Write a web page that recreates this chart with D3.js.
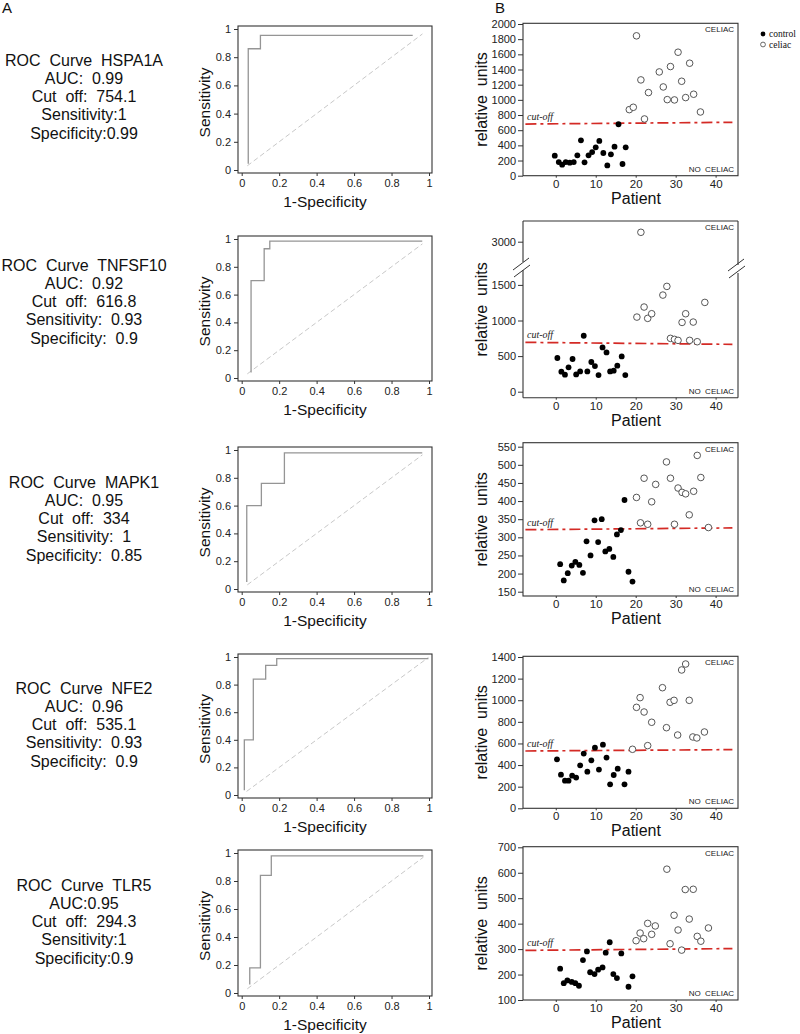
<!DOCTYPE html>
<html><head><meta charset="utf-8">
<script src="https://cdn.jsdelivr.net/npm/d3@7"></script>
<style>body{margin:0;background:#fff} svg{display:block}</style>
</head><body><svg id="c" width="800" height="1034"></svg>
<script>
// ---------------- DATA ----------------
const genes = ["HSPA1A","TNFSF10","MAPK1","NFE2","TLR5"];
const aucLabels = ["AUC:  0.99","AUC:  0.92","AUC:  0.95","AUC:  0.96","AUC:0.95"];
const cutoffLabels = ["Cut  off:  754.1","Cut  off:  616.8","Cut  off:  334","Cut  off:  535.1","Cut  off:  294.3"];
const sensLabels = ["Sensitivity:1","Sensitivity:  0.93","Sensitivity:  1","Sensitivity:  0.93","Sensitivity:1"];
const specLabels = ["Specificity:0.99","Specificity:  0.9","Specificity:  0.85","Specificity:  0.9","Specificity:0.9"];

const rocTicks = [0,0.2,0.4,0.6,0.8,1];
// ROC curves: [1-specificity, sensitivity]
const rocHSPA1A  = [[0.035,0.045],[0.035,0.86],[0.1,0.86],[0.1,0.955],[0.913,0.955]];
const rocTNFSF10 = [[0.05,0.04],[0.05,0.70],[0.12,0.70],[0.12,0.93],[0.15,0.93],[0.15,0.985],[0.964,0.985]];
const rocMAPK1   = [[0.027,0.05],[0.027,0.60],[0.105,0.60],[0.105,0.76],[0.228,0.76],[0.228,0.98],[0.964,0.98]];
const rocNFE2    = [[0.014,0.034],[0.014,0.40],[0.062,0.40],[0.062,0.84],[0.128,0.84],[0.128,0.94],[0.187,0.94],[0.187,0.988],[0.997,0.988]];
const rocTLR5    = [[0.043,0.06],[0.043,0.18],[0.10,0.18],[0.10,0.84],[0.158,0.84],[0.158,0.98],[0.97,0.98]];
const rocDiagStart = [0.03,0.03,0.03,0.026,0.03];
const rocDiagEnd   = [0.965,0.965,0.965,0.997,0.97];

const patientTicks = [0,10,20,30,40];

// Scatter: [patient, relative units]
const controlHSPA1A = [[-0.25,264],[0.75,180],[1.6,145],[2.5,180],[3.5,172],[4.5,180],[5.4,268],[6.3,466],[7.2,176],[8.2,268],[9.1,312],[10,374],[10.9,458],[11.9,299],[12.9,136],[13.8,282],[14.7,383],[15.7,678],[16.7,154],[17.5,374]];
const celiacHSPA1A = [[20.2,1844],[18.4,871],[19.4,902],[21.3,1263],[22.2,748],[23.2,1096],[25.9,1368],[26.9,1170],[27.9,1003],[28.7,1439],[29.7,999],[30.6,1628],[31.5,1245],[32.5,1030],[33.5,1483],[34.5,1074],[36.2,840]];
const cutHSPA1A = [681,704];
const ticksHSPA1A = [0,200,400,600,800,1000,1200,1400,1600,1800,2000];

const controlTNFSF10 = [[0.4,473],[1.4,281],[2.3,239],[3.2,342],[4.2,459],[5.1,243],[6.1,285],[7,786],[7.9,285],[8.9,417],[9.8,360],[10.7,234],[11.7,622],[12.7,552],[13.6,285],[14.5,295],[15.4,365],[16.5,496],[17.4,234]];
const celiacTNFSF10 = [[20.3,1048],[21.3,3132],[22.1,1189],[23,1030],[24,1095],[26.8,1357],[27.8,1479],[28.7,749],[29.7,735],[30.6,721],[31.6,973],[32.5,1095],[33.5,721],[34.4,978],[35.4,702],[37.3,1254]];
const cutTNFSF10 = [693,665];
const ticksTNFSF10Low = [0,500,1000,1500];
const ticksTNFSF10High = [3000];

const controlMAPK1 = [[1.1,226],[2,181],[3,201],[4,222],[4.9,232],[5.9,224],[6.8,202],[7.7,289],[8.7,250],[9.7,347],[10.6,287],[11.5,350],[12.4,261],[13.4,268],[14.4,246],[15.3,308],[16.3,320],[17.2,403],[18.2,205],[19.2,178]];
const celiacMAPK1 = [[20.2,410],[21.2,340],[22.1,463],[23,336],[24,398],[25,446],[27.7,508],[28.7,463],[29.7,336],[30.6,436],[31.6,424],[32.5,420],[33.4,362],[34.5,427],[35.4,526],[36.3,465],[38.2,327]];
const cutMAPK1 = [321,326];
const ticksMAPK1 = [150,200,250,300,350,400,450,500,550];

const controlNFE2 = [[0.3,453],[1.3,311],[2.3,256],[3.2,256],[4.1,302],[5.1,284],[6.1,398],[7,506],[7.9,339],[8.9,444],[9.8,561],[10.8,358],[11.8,589],[12.7,469],[13.6,222],[14.5,308],[15.5,367],[17.2,222],[18.2,339]];
const celiacNFE2 = [[19.2,546],[20.2,934],[21.1,1024],[22.1,891],[23,580],[24,796],[26.7,1116],[27.7,746],[28.6,981],[29.6,999],[30.5,678],[31.5,1280],[32.5,1335],[33.4,999],[34.3,660],[35.3,651],[37.2,706]];
const cutNFE2 = [530,543];
const ticksNFE2 = [0,200,400,600,800,1000,1200,1400];

const controlTLR5 = [[1.1,223],[2,166],[2.9,177],[4,171],[4.9,166],[5.8,156],[6.8,257],[7.8,291],[8.6,209],[9.7,202],[10.6,219],[11.7,228],[12.5,286],[13.5,327],[14.4,202],[15.3,186],[16.4,283],[18.2,152],[19.2,193]];
const celiacTLR5 = [[20.1,333],[21.1,363],[22,341],[23,401],[24,358],[24.9,391],[27.8,614],[28.6,321],[29.6,433],[30.6,375],[31.5,296],[32.4,534],[33.4,418],[34.4,535],[35.4,350],[36.3,331],[38.2,383]];
const cutTLR5 = [295,302];
const ticksTLR5 = [100,200,300,400,500,600,700];

const legendLabels = ["control","celiac"];

// ---------------- DRAW ----------------
const FONT = "Arial, 'Liberation Sans', Helvetica, sans-serif";
const SERIF = "'Times New Roman', 'Liberation Serif', 'DejaVu Serif', serif";
const svg = d3.select("#c").style("font-family", FONT);
const fmtInt = d3.format("d");

svg.append("text").attr("x",2).attr("y",13).attr("font-size",15).attr("fill","#111").text("A");
svg.append("text").attr("x",495).attr("y",13).attr("font-size",15).attr("fill","#111").text("B");

// Left descriptive text
const textTop = [60, 265, 482, 688, 885];
genes.forEach((g,i)=>{
  const lines = ["ROC  Curve  "+g, aucLabels[i], cutoffLabels[i], sensLabels[i], specLabels[i]];
  const t = svg.append("text").attr("text-anchor","middle").attr("font-size",16)
    .attr("fill","#111").style("white-space","pre");
  lines.forEach((l,j)=> t.append("tspan").attr("x",84).attr("y", textTop[i]+j*18.3+5.5).text(l));
});

// ROC panels
const rocCurves = [rocHSPA1A, rocTNFSF10, rocMAPK1, rocNFE2, rocTLR5];
const rocY1 = [29,239,450,657,853], rocY0 = [170,378,589,795,993];
function styleAxis(a, size){
  a.select(".domain").remove();
  a.attr("font-family", FONT).attr("font-size", size);
  a.selectAll("line").attr("stroke","#333");
  a.selectAll("text").attr("fill","#222");
}
rocCurves.forEach((pts,i)=>{
  const x = d3.scaleLinear().domain([0,1]).range([241.7,429]);
  const y = d3.scaleLinear().domain([0,1]).range([rocY0[i], rocY1[i]]);
  const top = rocY1[i]-3, bot = rocY0[i]+3, left = 238, right = 432;
  const g = svg.append("g");
  g.append("line").attr("x1",x(rocDiagStart[i])).attr("y1",y(rocDiagStart[i]))
    .attr("x2",x(rocDiagEnd[i])).attr("y2",y(rocDiagEnd[i]))
    .attr("stroke","#c8c8c8").attr("stroke-width",1).attr("stroke-dasharray","5,3");
  g.append("path").datum(pts).attr("d", d3.line().x(d=>x(d[0])).y(d=>y(d[1])))
    .attr("fill","none").attr("stroke","#959595").attr("stroke-width",1.3);
  g.append("rect").attr("x",left).attr("y",top).attr("width",right-left).attr("height",bot-top)
    .attr("fill","none").attr("stroke","#333").attr("stroke-width",1.1);
  g.append("g").attr("transform",`translate(${left},0)`)
    .call(d3.axisLeft(y).tickValues(rocTicks).tickSize(4).tickPadding(3).tickFormat(d3.format("~g")))
    .call(a=>styleAxis(a,11));
  g.append("g").attr("transform",`translate(0,${bot})`)
    .call(d3.axisBottom(x).tickValues(rocTicks).tickSize(3).tickPadding(3).tickFormat(d3.format("~g")))
    .call(a=>styleAxis(a,11));
  g.append("text").attr("transform",`translate(205,${(top+bot)/2+3}) rotate(-90)`)
    .attr("text-anchor","middle").attr("dy","0.35em").attr("font-size",15.5).attr("fill","#111").text("Sensitivity");
  g.append("text").attr("x",325).attr("y",rocY0[i]+36.5).attr("text-anchor","middle")
    .attr("font-size",15.5).attr("fill","#111").text("1-Specificity");
});

// Scatter panels
const xS = d3.scaleLinear().domain([-8.2,45.6]).range([523,738]);
const SL = 523, SR = 738;
const scatters = [
  {ctrl: controlHSPA1A, cel: celiacHSPA1A, cut: cutHSPA1A, ticks: ticksHSPA1A, dom:[0,2000], rng:[175.7,24], top:23.3, bot:175.7},
  {ctrl: controlTNFSF10, cel: celiacTNFSF10, cut: cutTNFSF10, broken:true, top:221, bot:397.7},
  {ctrl: controlMAPK1, cel: celiacMAPK1, cut: cutMAPK1, ticks: ticksMAPK1, dom:[150,550], rng:[591.7,446.7], top:442.7, bot:596},
  {ctrl: controlNFE2, cel: celiacNFE2, cut: cutNFE2, ticks: ticksNFE2, dom:[0,1400], rng:[808.3,657], top:656.3, bot:808.3},
  {ctrl: controlTLR5, cel: celiacTLR5, cut: cutTLR5, ticks: ticksTLR5, dom:[100,700], rng:[1000,847.3], top:846.7, bot:1000}
];
scatters.forEach((s,i)=>{
  const g = svg.append("g");
  let yf;
  if (s.broken){
    const yLow = d3.scaleLinear().domain([0,1500]).range([391.7,284.9]);
    const yHigh = d3.scaleLinear().domain([2700,3300]).range([263.06,220.34]);
    yf = v => v > 2000 ? yHigh(v) : yLow(v);
    const bx = g.append("g").attr("stroke","#333").attr("stroke-width",1.1).attr("fill","none");
    bx.append("line").attr("x1",SL).attr("y1",s.top).attr("x2",SR).attr("y2",s.top);
    bx.append("line").attr("x1",SL).attr("y1",s.bot).attr("x2",SR).attr("y2",s.bot);
    bx.append("line").attr("x1",SL).attr("y1",s.top).attr("x2",SL).attr("y2",262);
    bx.append("line").attr("x1",SL).attr("y1",270).attr("x2",SL).attr("y2",s.bot);
    bx.append("line").attr("x1",SR).attr("y1",s.top).attr("x2",SR).attr("y2",265);
    bx.append("line").attr("x1",SR).attr("y1",273).attr("x2",SR).attr("y2",s.bot);
    const bm = g.append("g").attr("stroke","#333").attr("stroke-width",1);
    [[513,270,529,258],[514,277,530,265],[728,271,744,259],[729,278,745,266]].forEach(l=>
      bm.append("line").attr("x1",l[0]).attr("y1",l[1]).attr("x2",l[2]).attr("y2",l[3]));
    g.append("g").attr("transform",`translate(${SL},0)`)
      .call(d3.axisLeft(yLow).tickValues(ticksTNFSF10Low).tickSize(5).tickPadding(2).tickFormat(fmtInt))
      .call(a=>styleAxis(a,11));
    g.append("g").attr("transform",`translate(${SL},0)`)
      .call(d3.axisLeft(yHigh).tickValues(ticksTNFSF10High).tickSize(5).tickPadding(2).tickFormat(fmtInt))
      .call(a=>styleAxis(a,11));
  } else {
    const y = d3.scaleLinear().domain(s.dom).range(s.rng);
    yf = y;
    g.append("rect").attr("x",SL).attr("y",s.top).attr("width",SR-SL).attr("height",s.bot-s.top)
      .attr("fill","none").attr("stroke","#333").attr("stroke-width",1.1);
    g.append("g").attr("transform",`translate(${SL},0)`)
      .call(d3.axisLeft(y).tickValues(s.ticks).tickSize(5).tickPadding(2).tickFormat(fmtInt))
      .call(a=>styleAxis(a,11));
  }
  g.append("g").attr("transform",`translate(0,${s.bot})`)
    .call(d3.axisBottom(xS).tickValues(patientTicks).tickSize(2).tickPadding(2).tickFormat(fmtInt))
    .call(a=>styleAxis(a,11.5));
  // cut-off line
  g.append("line").attr("x1",xS(-7.6)).attr("y1",yf(s.cut[0])).attr("x2",xS(44.2)).attr("y2",yf(s.cut[1]))
    .attr("stroke","#d42a25").attr("stroke-width",1.7).attr("stroke-dasharray","11,4,3,4");
  g.append("text").attr("x",SL+4).attr("y",yf(s.cut[0])-4).attr("font-family",SERIF).attr("font-style","italic")
    .attr("font-size",10).attr("fill","#222").text("cut-off");
  // dots
  g.selectAll("circle.cel").data(s.cel).join("circle").attr("class","cel")
    .attr("cx",d=>xS(d[0])).attr("cy",d=>yf(d[1])).attr("r",3.3)
    .attr("fill","#fff").attr("stroke","#444").attr("stroke-width",0.9);
  g.selectAll("circle.ctl").data(s.ctrl).join("circle").attr("class","ctl")
    .attr("cx",d=>xS(d[0])).attr("cy",d=>yf(d[1])).attr("r",2.9).attr("fill","#000");
  // corner labels
  g.append("text").attr("x",SR-4).attr("y",s.top+9).attr("text-anchor","end").attr("font-size",8).attr("fill","#222").text("CELIAC");
  g.append("text").attr("x",SR-4).attr("y",s.bot-4).attr("text-anchor","end").attr("font-size",8).attr("fill","#222")
    .style("white-space","pre").text("NO  CELIAC");
  // axis titles
  g.append("text").attr("transform",`translate(481,${(s.top+s.bot)/2}) rotate(-90)`).attr("text-anchor","middle")
    .attr("dy","0.35em").attr("font-size",16).attr("fill","#111").style("white-space","pre").text("relative  units");
  g.append("text").attr("x",636).attr("y",s.bot+28).attr("text-anchor","middle").attr("font-size",16).attr("fill","#111").text("Patient");
});

// legend
const lg = svg.append("g").attr("font-family",SERIF).attr("font-size",9.5).attr("fill","#111");
legendLabels.forEach((l,i)=>{
  const yy = 34 + i*10.5;
  lg.append("circle").attr("cx",763).attr("cy",yy).attr("r",2.4)
    .attr("fill", i===0 ? "#000" : "#fff").attr("stroke", i===0 ? "none" : "#444").attr("stroke-width",0.8);
  lg.append("text").attr("x",769).attr("y",yy+3.2).text(l);
});
</script>
</body></html>
